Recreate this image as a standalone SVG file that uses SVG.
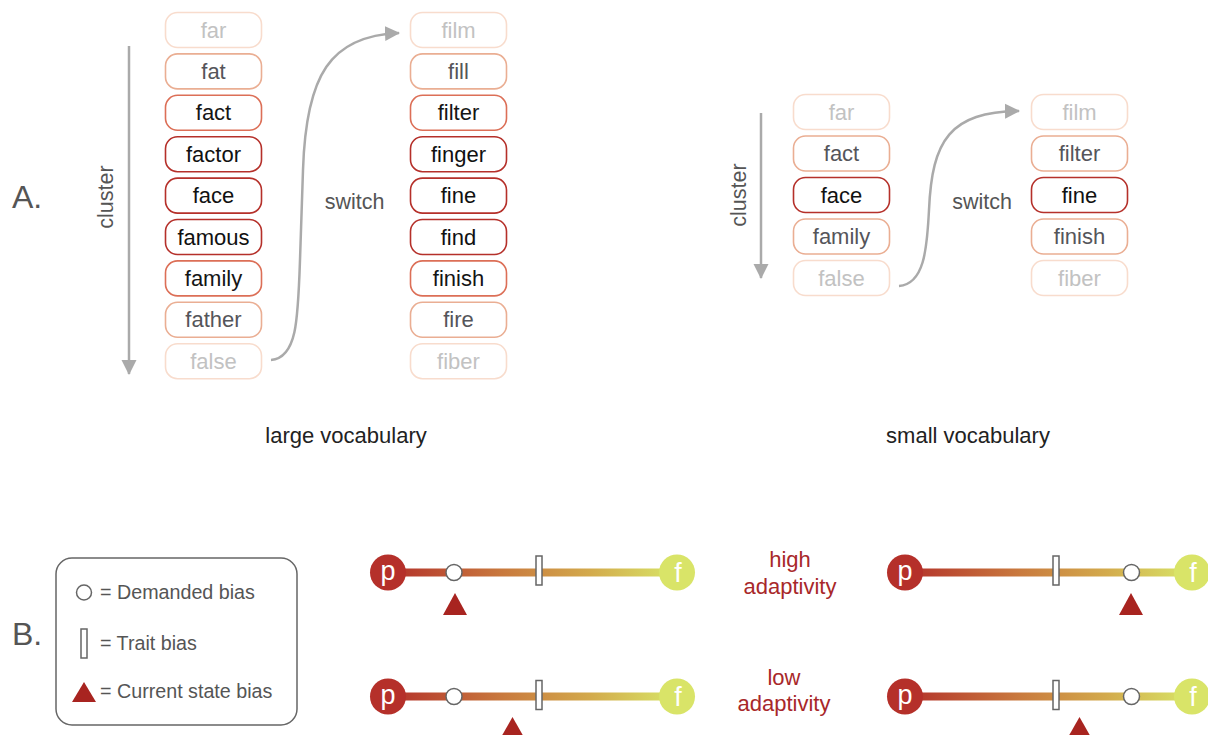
<svg xmlns="http://www.w3.org/2000/svg" width="1208" height="735" viewBox="0 0 1208 735">
<defs>
<style>
text{font-family:"Liberation Sans",Arial,sans-serif}
.box{fill:#fff;stroke-width:1.6}
.l0 rect{stroke:#f8dccd}.l0 text{fill:#c2c2c2}
.l1 rect{stroke:#eaae93}.l1 text{fill:#55555a}
.l2 rect{stroke:#dc6f57}.l2 text{fill:#151515}
.l3 rect{stroke:#b5302a}.l3 text{fill:#111}
.w{font-size:22px;text-anchor:middle}
.lab{font-size:21.5px;fill:#555;text-anchor:middle}
.cap{font-size:22px;fill:#222;text-anchor:middle}
.big{font-size:32px;fill:#555}
.leg{font-size:19.7px;fill:#555}
.ad{font-size:22px;fill:#a8282a;text-anchor:middle}
.arr{fill:none;stroke:#aaa;stroke-width:2.5}
.dem{fill:#fff;stroke:#666;stroke-width:1.5}
.tr{fill:#fff;stroke:#666;stroke-width:1.5}
.cur{fill:#a82420}
.pc{fill:#b5302a}.fc{fill:#d9e468}
.pf{font-size:27px;fill:#fff;text-anchor:middle}
</style>
<marker id="ah" markerUnits="userSpaceOnUse" markerWidth="16" markerHeight="16" refX="14" refY="8" orient="auto">
<path d="M0,0.5 L15,8 L0,15.5 z" fill="#aaa"/>
</marker>
<linearGradient id="gr" x1="0" x2="1" y1="0" y2="0">
<stop offset="0" stop-color="#b3302a"/>
<stop offset="0.4" stop-color="#c97a3e"/>
<stop offset="0.7" stop-color="#d3aa4c"/>
<stop offset="1" stop-color="#d8e668"/>
</linearGradient>
</defs>
<rect width="1208" height="735" fill="#fff"/>

<text class="big" x="12" y="208">A.</text>
<text class="big" x="12" y="645">B.</text>

<g id="connectors">
<path class="arr" d="M129,46 L129,374" marker-end="url(#ah)"/>
<path class="arr" d="M271,360 C297,358 298,320 300,260 L303,170 C306,75 330,36 399,33" marker-end="url(#ah)"/>
<path class="arr" d="M761,113 L761,278" marker-end="url(#ah)"/>
<path class="arr" d="M899,286 C924,284 927,250 929,210 C932,140 950,112 1019,111" marker-end="url(#ah)"/>
</g>

<g id="large-left">
<g id="n-far" class="l0"><rect class="box" x="165.5" y="12.5" width="96" height="35" rx="12"/><text class="w" x="213.5" y="37.5">far</text></g>
<g id="n-fat" class="l1"><rect class="box" x="165.5" y="53.9" width="96" height="35" rx="12"/><text class="w" x="213.5" y="78.9">fat</text></g>
<g id="n-fact" class="l2"><rect class="box" x="165.5" y="95.3" width="96" height="35" rx="12"/><text class="w" x="213.5" y="120.3">fact</text></g>
<g id="n-factor" class="l3"><rect class="box" x="165.5" y="136.7" width="96" height="35" rx="12"/><text class="w" x="213.5" y="161.7">factor</text></g>
<g id="n-face" class="l3"><rect class="box" x="165.5" y="178.1" width="96" height="35" rx="12"/><text class="w" x="213.5" y="203.1">face</text></g>
<g id="n-famous" class="l3"><rect class="box" x="165.5" y="219.5" width="96" height="35" rx="12"/><text class="w" x="213.5" y="244.5">famous</text></g>
<g id="n-family" class="l2"><rect class="box" x="165.5" y="260.9" width="96" height="35" rx="12"/><text class="w" x="213.5" y="285.9">family</text></g>
<g id="n-father" class="l1"><rect class="box" x="165.5" y="302.3" width="96" height="35" rx="12"/><text class="w" x="213.5" y="327.3">father</text></g>
<g id="n-false" class="l0"><rect class="box" x="165.5" y="343.7" width="96" height="35" rx="12"/><text class="w" x="213.5" y="368.7">false</text></g>
</g>

<g id="large-right">
<g id="n-film" class="l0"><rect class="box" x="410.5" y="12.5" width="96" height="35" rx="12"/><text class="w" x="458.5" y="37.5">film</text></g>
<g id="n-fill" class="l1"><rect class="box" x="410.5" y="53.9" width="96" height="35" rx="12"/><text class="w" x="458.5" y="78.9">fill</text></g>
<g id="n-filter" class="l2"><rect class="box" x="410.5" y="95.3" width="96" height="35" rx="12"/><text class="w" x="458.5" y="120.3">filter</text></g>
<g id="n-finger" class="l3"><rect class="box" x="410.5" y="136.7" width="96" height="35" rx="12"/><text class="w" x="458.5" y="161.7">finger</text></g>
<g id="n-fine" class="l3"><rect class="box" x="410.5" y="178.1" width="96" height="35" rx="12"/><text class="w" x="458.5" y="203.1">fine</text></g>
<g id="n-find" class="l3"><rect class="box" x="410.5" y="219.5" width="96" height="35" rx="12"/><text class="w" x="458.5" y="244.5">find</text></g>
<g id="n-finish" class="l2"><rect class="box" x="410.5" y="260.9" width="96" height="35" rx="12"/><text class="w" x="458.5" y="285.9">finish</text></g>
<g id="n-fire" class="l1"><rect class="box" x="410.5" y="302.3" width="96" height="35" rx="12"/><text class="w" x="458.5" y="327.3">fire</text></g>
<g id="n-fiber" class="l0"><rect class="box" x="410.5" y="343.7" width="96" height="35" rx="12"/><text class="w" x="458.5" y="368.7">fiber</text></g>
</g>

<g id="small-left">
<g id="s-far" class="l0"><rect class="box" x="793.5" y="94.5" width="96" height="35" rx="12"/><text class="w" x="841.5" y="119.5">far</text></g>
<g id="s-fact" class="l1"><rect class="box" x="793.5" y="136" width="96" height="35" rx="12"/><text class="w" x="841.5" y="161">fact</text></g>
<g id="s-face" class="l3"><rect class="box" x="793.5" y="177.5" width="96" height="35" rx="12"/><text class="w" x="841.5" y="202.5">face</text></g>
<g id="s-family" class="l1"><rect class="box" x="793.5" y="219" width="96" height="35" rx="12"/><text class="w" x="841.5" y="244">family</text></g>
<g id="s-false" class="l0"><rect class="box" x="793.5" y="260.5" width="96" height="35" rx="12"/><text class="w" x="841.5" y="285.5">false</text></g>
</g>

<g id="small-right">
<g id="s-film" class="l0"><rect class="box" x="1031.5" y="94.5" width="96" height="35" rx="12"/><text class="w" x="1079.5" y="119.5">film</text></g>
<g id="s-filter" class="l1"><rect class="box" x="1031.5" y="136" width="96" height="35" rx="12"/><text class="w" x="1079.5" y="161">filter</text></g>
<g id="s-fine" class="l3"><rect class="box" x="1031.5" y="177.5" width="96" height="35" rx="12"/><text class="w" x="1079.5" y="202.5">fine</text></g>
<g id="s-finish" class="l1"><rect class="box" x="1031.5" y="219" width="96" height="35" rx="12"/><text class="w" x="1079.5" y="244">finish</text></g>
<g id="s-fiber" class="l0"><rect class="box" x="1031.5" y="260.5" width="96" height="35" rx="12"/><text class="w" x="1079.5" y="285.5">fiber</text></g>
</g>

<g id="labels-a">
<text class="lab" transform="translate(113,197) rotate(-90)">cluster</text>
<text class="lab" x="354.5" y="209">switch</text>
<text class="lab" transform="translate(746,195) rotate(-90)">cluster</text>
<text class="lab" x="982" y="208.5">switch</text>
<text class="cap" x="346" y="443">large vocabulary</text>
<text class="cap" x="968" y="443">small vocabulary</text>
</g>

<g id="legend">
<rect x="56" y="558" width="241" height="167" rx="16" fill="#fff" stroke="#666" stroke-width="1.5"/>
<circle class="dem" cx="84" cy="592.5" r="7.5"/>
<text class="leg" x="100" y="598.5">= Demanded bias</text>
<rect class="tr" x="81" y="629" width="6" height="29"/>
<text class="leg" x="100" y="649.5">= Trait bias</text>
<path class="cur" d="M72,702 L96,702 L84,682 z"/>
<text class="leg" x="100" y="698">= Current state bias</text>
</g>

<g id="slider-high-large">
<rect x="388" y="568.5" width="289" height="8" fill="url(#gr)"/>
<circle class="pc" cx="388" cy="572.5" r="18"/><text class="pf" x="388" y="580">p</text>
<circle class="fc" cx="677" cy="572.5" r="18"/><text class="pf" x="678" y="582">f</text>
<circle class="dem" cx="454" cy="572.5" r="8"/>
<rect class="tr" x="536" y="556" width="6" height="29"/>
<path class="cur" d="M443,615 L467,615 L455,593 z"/>
</g>

<g id="slider-low-large">
<rect x="388" y="692.5" width="289" height="8" fill="url(#gr)"/>
<circle class="pc" cx="388" cy="696.5" r="18"/><text class="pf" x="388" y="704">p</text>
<circle class="fc" cx="677" cy="696.5" r="18"/><text class="pf" x="678" y="706">f</text>
<circle class="dem" cx="454" cy="696.5" r="8"/>
<rect class="tr" x="536" y="680.5" width="6" height="29"/>
<path class="cur" d="M500,739 L525,739 L512.5,717 z"/>
</g>

<g id="slider-high-small">
<rect x="905" y="568.5" width="287" height="8" fill="url(#gr)"/>
<circle class="pc" cx="905" cy="572.5" r="18"/><text class="pf" x="905" y="580">p</text>
<circle class="fc" cx="1192" cy="572.5" r="18"/><text class="pf" x="1193" y="582">f</text>
<rect class="tr" x="1053" y="556" width="6" height="29"/>
<circle class="dem" cx="1131.5" cy="572.5" r="8"/>
<path class="cur" d="M1119,615 L1143,615 L1131,593 z"/>
</g>

<g id="slider-low-small">
<rect x="905" y="692.5" width="287" height="8" fill="url(#gr)"/>
<circle class="pc" cx="905" cy="696.5" r="18"/><text class="pf" x="905" y="704">p</text>
<circle class="fc" cx="1192" cy="696.5" r="18"/><text class="pf" x="1193" y="706">f</text>
<rect class="tr" x="1053" y="680.5" width="6" height="29"/>
<circle class="dem" cx="1131.5" cy="696.5" r="8"/>
<path class="cur" d="M1067,739 L1092,739 L1079.5,717 z"/>
</g>

<g id="adaptivity-labels">
<text class="ad" x="790" y="567">high</text>
<text class="ad" x="790" y="594">adaptivity</text>
<text class="ad" x="784" y="685">low</text>
<text class="ad" x="784" y="711">adaptivity</text>
</g>
</svg>
